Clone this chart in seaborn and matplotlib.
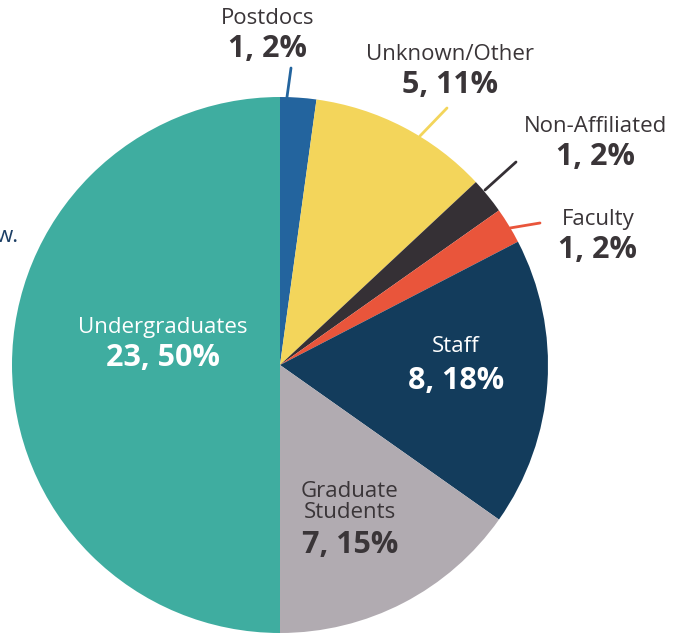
import matplotlib
matplotlib.use("Agg")
import matplotlib.pyplot as plt
import seaborn as sns

# data, clockwise from 12 o'clock
groups = ["Postdocs", "Unknown/Other", "Non-Affiliated", "Faculty",
          "Staff", "Graduate\nStudents", "Undergraduates"]
counts = [1, 5, 1, 1, 8, 7, 23]
percents = [2, 11, 2, 2, 18, 15, 50]
colors = ["#23649e", "#f3d55b", "#353035", "#e9553b",
          "#133c5c", "#b1abb1", "#3fada0"]

sns.set_theme(style="white")
plt.rcParams['font.family'] = ['Open Sans', 'DejaVu Sans']

W, H = 694, 633
fig = plt.figure(figsize=(W / 100, H / 100), dpi=100)
ax = fig.add_axes([0, 0, 1, 1])

cx, cy, r = 280, H - 365, 268
ax.pie(counts, colors=colors, startangle=90, counterclock=False,
       center=(cx, cy), radius=r, wedgeprops=dict(linewidth=0),
       frame=True)
ax.set_xlim(0, W)
ax.set_ylim(0, H)
ax.set_aspect("equal")
ax.axis("off")

dark = "#3a3538"


def label(x, y, name, idx, color=dark, gap=31):
    ax.text(x, H - y, name, ha="center", va="center", fontsize=16,
            color=color, linespacing=1.05)
    ax.text(x, H - y - gap, f"{counts[idx]}, {percents[idx]}%", ha="center",
            va="center", fontsize=22, fontweight="bold", color=color)


# outside labels with leader lines
label(268, 18, groups[0], 0)
ax.plot([287, 291], [H - 97, H - 68], color=colors[0], lw=2)
label(450, 54, groups[1], 1)
ax.plot([420, 447], [H - 136, H - 108], color=colors[1], lw=2)
label(596, 126, groups[2], 2)
ax.plot([485, 516], [H - 190, H - 162], color=colors[2], lw=2)
label(598, 219, groups[3], 3)
ax.plot([510, 540], [H - 228, H - 223], color=colors[3], lw=2)

# inside labels
label(163, 327, groups[6], 6, color="white")
label(456, 346, groups[4], 4, color="white", gap=35)
ax.text(350, H - 502, groups[5], ha="center", va="center", fontsize=16,
        color=dark, linespacing=1.0)
ax.text(350, H - 545, f"{counts[5]}, {percents[5]}%", ha="center",
        va="center", fontsize=22, fontweight="bold", color=dark)

# clipped fragment at the left edge (cut off in the original too)
ax.text(-4, H - 236, "w.", ha="left", va="center", fontsize=16,
        color="#1d3f66")

fig.savefig("out.png", dpi=100)
